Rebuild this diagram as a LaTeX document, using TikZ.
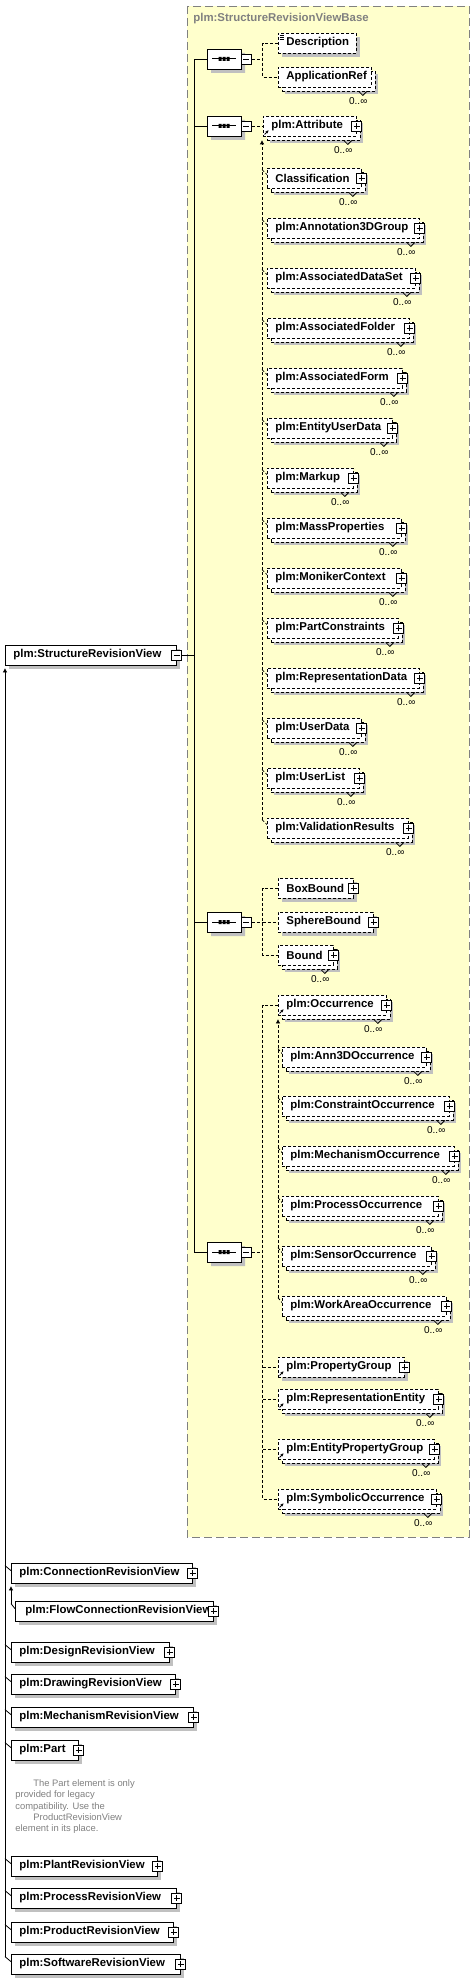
\documentclass[tikz,border=0pt]{standalone}
\usepackage{fontspec}
\setmainfont{Liberation Sans}
\usetikzlibrary{positioning, shapes.misc, shadows, arrows.meta}

\definecolor{baseyellow}{HTML}{FFFFCC}
\definecolor{shadowgray}{HTML}{C0C0C0}
\definecolor{framegray}{HTML}{808080}

\begin{document}
\begin{tikzpicture}[x=1pt, y=-1pt, line width=0.8pt,
  elem/.style={draw, fill=white, anchor=west, minimum height=20pt, inner xsep=8pt, inner ysep=0pt,
    text width=#1, align=left, font=\bfseries\fontsize{11.4pt}{13pt}\selectfont},
  opt/.style={dash pattern=on 3pt off 2pt},
  single/.style={elem=#1, drop shadow={shadow xshift=4pt, shadow yshift=-4pt, fill=shadowgray, opacity=1}},
  multi/.style={elem=#1, opt,
    drop shadow={shadow xshift=7pt, shadow yshift=-7pt, fill=shadowgray, opacity=1},
    copy shadow={shadow xshift=4pt, shadow yshift=-4pt, draw=black, fill=white, dash pattern=on 3pt off 2pt}},
  seqbox/.style={chamfered rectangle, chamfered rectangle xsep=6pt, chamfered rectangle ysep=5pt,
    draw, fill=white, minimum width=34pt, minimum height=20pt, inner sep=0pt,
    drop shadow={shadow xshift=4pt, shadow yshift=-4pt, fill=shadowgray, opacity=1},
    path picture={
      \draw[black, line width=1pt] ([xshift=5pt]path picture bounding box.west) -- ([xshift=-5pt]path picture bounding box.east);
      \fill[black] (path picture bounding box.center) ++(-5.5,-2) rectangle ++(3,4) ++(1,-4) rectangle ++(3,4) ++(1,-4) rectangle ++(3,4);}},
  plusbox/.style={draw, solid, fill=white, minimum size=10pt, inner sep=0pt, line width=0.7pt,
    path picture={\draw ([yshift=-2pt]path picture bounding box.north) -- ([yshift=2pt]path picture bounding box.south)
      ([xshift=2pt]path picture bounding box.west) -- ([xshift=-2pt]path picture bounding box.east);}},
  minusbox/.style={draw, solid, fill=white, minimum size=10pt, inner sep=0pt, line width=0.7pt,
    path picture={\draw ([xshift=2pt]path picture bounding box.west) -- ([xshift=-2pt]path picture bounding box.east);}},
  conn/.style={dash pattern=on 3pt off 2pt},
  subst/.style={dash pattern=on 3pt off 2pt},
  subtip/.style={-{Triangle[length=4pt, width=4pt]}},
  refmark/.style={-{Stealth[length=3pt, width=3pt]}, line width=0.9pt},
  card/.style={anchor=east, inner sep=0pt, font=\fontsize{10pt}{12pt}\selectfont},
  doc/.style={anchor=north west, inner sep=0pt, align=left, text=framegray, font=\fontsize{9.4pt}{11.2pt}\selectfont}
]
\useasboundingbox (0,0) rectangle (475,1980);

% Base type
\draw[framegray, dash pattern=on 8pt off 4pt, fill=baseyellow] (187,6) rectangle (469,1537);
\node[anchor=west, inner sep=0pt, text=framegray, font=\bfseries\fontsize{11.4pt}{13pt}\selectfont] (basettl) at (193,19) {plm:StructureRevisionViewBase};

% Nodes
\node[single=155pt] (srv) at (5,655) {plm:StructureRevisionView};

\node[seqbox] (sA) at (224,59) {};
\node[seqbox] (sB) at (224,126) {};
\node[seqbox] (sC) at (224,922) {};
\node[seqbox] (sD) at (224,1252) {};

\node[single=62pt, opt] (desc) at (278,43) {Description};
\node[multi=77pt] (appref) at (278,77) {ApplicationRef};

\node[multi=77pt] (att) at (263,126) {plm:Attribute};
\node[multi=78pt] (cls) at (267,178) {Classification};
\node[multi=136pt] (ann) at (267,228) {plm:Annotation3DGroup};
\node[multi=132pt] (ads) at (267,278) {plm:AssociatedDataSet};
\node[multi=126pt] (afo) at (267,328) {plm:AssociatedFolder};
\node[multi=119pt] (afm) at (267,378) {plm:AssociatedForm};
\node[multi=109pt] (eud) at (267,428) {plm:EntityUserData};
\node[multi=70pt] (mku) at (267,478) {plm:Markup};
\node[multi=118pt] (mpr) at (267,528) {plm:MassProperties};
\node[multi=118pt] (mon) at (267,578) {plm:MonikerContext};
\node[multi=115pt] (pcn) at (267,628) {plm:PartConstraints};
\node[multi=136pt] (rpd) at (267,678) {plm:RepresentationData};
\node[multi=78pt] (usd) at (267,728) {plm:UserData};
\node[multi=76pt] (usl) at (267,778) {plm:UserList};
\node[multi=125pt] (val) at (267,828) {plm:ValidationResults};

\node[single=59pt, opt] (bbx) at (278,888) {BoxBound};
\node[single=79pt, opt] (sph) at (278,922) {SphereBound};
\node[multi=39pt] (bnd) at (278,955) {Bound};

\node[multi=92pt] (occ) at (278,1005) {plm:Occurrence};
\node[multi=128pt] (a3o) at (282,1057) {plm:Ann3DOccurrence};
\node[multi=151pt] (cno) at (282,1106) {plm:ConstraintOccurrence};
\node[multi=156pt] (meo) at (282,1156) {plm:MechanismOccurrence};
\node[multi=140pt] (pro) at (282,1206) {plm:ProcessOccurrence};
\node[multi=133pt] (seo) at (282,1256) {plm:SensorOccurrence};
\node[multi=148pt] (wao) at (282,1306) {plm:WorkAreaOccurrence};
\node[single=110pt, opt] (prg) at (278,1367) {plm:PropertyGroup};
\node[multi=144pt] (ren) at (278,1399) {plm:RepresentationEntity};
\node[multi=140pt] (epg) at (278,1449) {plm:EntityPropertyGroup};
\node[multi=142pt] (syo) at (278,1499) {plm:SymbolicOccurrence};

\node[single=165pt] (crv) at (11,1573) {plm:ConnectionRevisionView};
\node[single=182pt] (fcr) at (15,1611) {\hspace*{2pt}plm:FlowConnectionRevisionView};
\node[single=142pt] (dsr) at (11,1652) {plm:DesignRevisionView};
\node[single=148pt] (dwr) at (11,1684) {plm:DrawingRevisionView};
\node[single=166pt] (mcr) at (11,1717) {plm:MechanismRevisionView};
\node[single=51pt] (prt) at (11,1750) {plm:Part};
\node[single=130pt] (plr) at (11,1866) {plm:PlantRevisionView};
\node[single=149pt] (psr) at (11,1898) {plm:ProcessRevisionView};
\node[single=146pt] (pdr) at (11,1932) {plm:ProductRevisionView};
\node[single=153pt] (swr) at (11,1964) {plm:SoftwareRevisionView};

% Expand boxes
\node[minusbox] (srvM) at (srv.east) {};
\node[minusbox] (sAM) at ([xshift=5pt]sA.east) {};
\node[minusbox] (sBM) at ([xshift=5pt]sB.east) {};
\node[minusbox] (sCM) at ([xshift=5pt]sC.east) {};
\node[minusbox] (sDM) at ([xshift=5pt]sD.east) {};

\node[plusbox] (attP) at (att.east) {};
\node[plusbox] (clsP) at (cls.east) {};
\node[plusbox] (annP) at (ann.east) {};
\node[plusbox] (adsP) at (ads.east) {};
\node[plusbox] (afoP) at (afo.east) {};
\node[plusbox] (afmP) at (afm.east) {};
\node[plusbox] (eudP) at (eud.east) {};
\node[plusbox] (mkuP) at (mku.east) {};
\node[plusbox] (mprP) at (mpr.east) {};
\node[plusbox] (monP) at (mon.east) {};
\node[plusbox] (pcnP) at (pcn.east) {};
\node[plusbox] (rpdP) at (rpd.east) {};
\node[plusbox] (usdP) at (usd.east) {};
\node[plusbox] (uslP) at (usl.east) {};
\node[plusbox] (valP) at (val.east) {};
\node[plusbox] (bbxP) at (bbx.east) {};
\node[plusbox] (sphP) at (sph.east) {};
\node[plusbox] (bndP) at (bnd.east) {};
\node[plusbox] (occP) at (occ.east) {};
\node[plusbox] (a3oP) at (a3o.east) {};
\node[plusbox] (cnoP) at (cno.east) {};
\node[plusbox] (meoP) at (meo.east) {};
\node[plusbox] (proP) at (pro.east) {};
\node[plusbox] (seoP) at (seo.east) {};
\node[plusbox] (waoP) at (wao.east) {};
\node[plusbox] (prgP) at (prg.east) {};
\node[plusbox] (renP) at (ren.east) {};
\node[plusbox] (epgP) at (epg.east) {};
\node[plusbox] (syoP) at (syo.east) {};
\node[plusbox] (crvP) at (crv.east) {};
\node[plusbox] (fcrP) at (fcr.east) {};
\node[plusbox] (dsrP) at (dsr.east) {};
\node[plusbox] (dwrP) at (dwr.east) {};
\node[plusbox] (mcrP) at (mcr.east) {};
\node[plusbox] (prtP) at (prt.east) {};
\node[plusbox] (plrP) at (plr.east) {};
\node[plusbox] (psrP) at (psr.east) {};
\node[plusbox] (pdrP) at (pdr.east) {};
\node[plusbox] (swrP) at (swr.east) {};

% Edges
\draw (srvM.east) -- ++(12,0) coordinate (trunk);
\draw (sA.west) -- (sA.west -| trunk) -- (sD.west -| trunk) -- (sD.west);
\draw (sB.west -| trunk) -- (sB.west);
\draw (sC.west -| trunk) -- (sC.west);

\draw[conn] (sAM.east) -- ++(11,0) coordinate (jA);
\draw[conn] (desc.west) -| (jA) |- (appref.west);
\draw[conn] (sBM.east) -- (att.west);
\draw[conn] (sCM.east) -- ++(11,0) coordinate (jC);
\draw[conn] (bbx.west) -| (jC) |- (bnd.west);
\draw[conn] (sph.west -| jC) -- (sph.west);
\draw[conn] (sDM.east) -- ++(11,0) coordinate (jD);
\draw[conn] (occ.west) -| (jD) |- (syo.west);
\draw[conn] (prg.west -| jD) -- (prg.west);
\draw[conn] (ren.west -| jD) -- (ren.west);
\draw[conn] (epg.west -| jD) -- (epg.west);

% Substitution groups
\draw[subst, subtip] ([xshift=-5pt, yshift=-2pt]val.north west) -- ([xshift=-1pt, yshift=-4pt]att.south west);
\draw[subst] ([xshift=-5pt, yshift=-2pt]cls.north west) -- ([yshift=-7pt]cls.north west);
\draw[subst] ([xshift=-5pt, yshift=-2pt]ann.north west) -- ([yshift=-7pt]ann.north west);
\draw[subst] ([xshift=-5pt, yshift=-2pt]ads.north west) -- ([yshift=-7pt]ads.north west);
\draw[subst] ([xshift=-5pt, yshift=-2pt]afo.north west) -- ([yshift=-7pt]afo.north west);
\draw[subst] ([xshift=-5pt, yshift=-2pt]afm.north west) -- ([yshift=-7pt]afm.north west);
\draw[subst] ([xshift=-5pt, yshift=-2pt]eud.north west) -- ([yshift=-7pt]eud.north west);
\draw[subst] ([xshift=-5pt, yshift=-2pt]mku.north west) -- ([yshift=-7pt]mku.north west);
\draw[subst] ([xshift=-5pt, yshift=-2pt]mpr.north west) -- ([yshift=-7pt]mpr.north west);
\draw[subst] ([xshift=-5pt, yshift=-2pt]mon.north west) -- ([yshift=-7pt]mon.north west);
\draw[subst] ([xshift=-5pt, yshift=-2pt]pcn.north west) -- ([yshift=-7pt]pcn.north west);
\draw[subst] ([xshift=-5pt, yshift=-2pt]rpd.north west) -- ([yshift=-7pt]rpd.north west);
\draw[subst] ([xshift=-5pt, yshift=-2pt]usd.north west) -- ([yshift=-7pt]usd.north west);
\draw[subst] ([xshift=-5pt, yshift=-2pt]usl.north west) -- ([yshift=-7pt]usl.north west);
\draw[subst] ([xshift=-5pt, yshift=-2pt]val.north west) -- ([yshift=-7pt]val.north west);

\draw[subst, subtip] ([xshift=-4pt, yshift=-2pt]wao.north west) -- ([yshift=-4pt]occ.south west);
\draw[subst] ([xshift=-4pt, yshift=-2pt]a3o.north west) -- ([yshift=-7pt]a3o.north west);
\draw[subst] ([xshift=-4pt, yshift=-2pt]cno.north west) -- ([yshift=-7pt]cno.north west);
\draw[subst] ([xshift=-4pt, yshift=-2pt]meo.north west) -- ([yshift=-7pt]meo.north west);
\draw[subst] ([xshift=-4pt, yshift=-2pt]pro.north west) -- ([yshift=-7pt]pro.north west);
\draw[subst] ([xshift=-4pt, yshift=-2pt]seo.north west) -- ([yshift=-7pt]seo.north west);
\draw[subst] ([xshift=-4pt, yshift=-2pt]wao.north west) -- ([yshift=-7pt]wao.north west);

\draw[subtip] ([xshift=-6pt, yshift=-3pt]swr.north west) -- ([yshift=-3pt]srv.south west);
\draw ([xshift=-6pt, yshift=-3pt]crv.north west) -- ([yshift=-8pt]crv.north west);
\draw ([xshift=-6pt, yshift=-3pt]dsr.north west) -- ([yshift=-8pt]dsr.north west);
\draw ([xshift=-6pt, yshift=-3pt]dwr.north west) -- ([yshift=-8pt]dwr.north west);
\draw ([xshift=-6pt, yshift=-3pt]mcr.north west) -- ([yshift=-8pt]mcr.north west);
\draw ([xshift=-6pt, yshift=-3pt]prt.north west) -- ([yshift=-8pt]prt.north west);
\draw ([xshift=-6pt, yshift=-3pt]plr.north west) -- ([yshift=-8pt]plr.north west);
\draw ([xshift=-6pt, yshift=-3pt]psr.north west) -- ([yshift=-8pt]psr.north west);
\draw ([xshift=-6pt, yshift=-3pt]pdr.north west) -- ([yshift=-8pt]pdr.north west);
\draw ([xshift=-6pt, yshift=-3pt]swr.north west) -- ([yshift=-8pt]swr.north west);
\draw[subtip] ([xshift=-4pt, yshift=-3pt]fcr.north west) -- ([yshift=-3pt]crv.south west);
\draw ([xshift=-4pt, yshift=-3pt]fcr.north west) -- ([yshift=-8pt]fcr.north west);

% Markers
\draw[line width=0.6pt] (desc.north west) ++(1.5,2.5) -- ++(4,0) ++(-4,2) -- ++(4,0) ++(-4,2) -- ++(4,0);
\draw[refmark] ([xshift=1.5pt, yshift=2pt]att.south west) -- ++(4,-4);
\draw[refmark] ([xshift=1.5pt, yshift=2pt]occ.south west) -- ++(4,-4);
\draw[refmark] ([xshift=1.5pt, yshift=2pt]prg.south west) -- ++(4,-4);
\draw[refmark] ([xshift=1.5pt, yshift=2pt]ren.south west) -- ++(4,-4);
\draw[refmark] ([xshift=1.5pt, yshift=2pt]epg.south west) -- ++(4,-4);
\draw[refmark] ([xshift=1.5pt, yshift=2pt]syo.south west) -- ++(4,-4);

% Labels
\draw (appref.south east) ++(-13,4) -- ++(4,4) -- ++(4,-4) ++(1,9.5) node[card] (apprefN) {0..∞};
\draw (att.south east) ++(-13,4) -- ++(4,4) -- ++(4,-4) ++(1,9.5) node[card] (attN) {0..∞};
\draw (cls.south east) ++(-13,4) -- ++(4,4) -- ++(4,-4) ++(1,9.5) node[card] (clsN) {0..∞};
\draw (ann.south east) ++(-13,4) -- ++(4,4) -- ++(4,-4) ++(1,9.5) node[card] (annN) {0..∞};
\draw (ads.south east) ++(-13,4) -- ++(4,4) -- ++(4,-4) ++(1,9.5) node[card] (adsN) {0..∞};
\draw (afo.south east) ++(-13,4) -- ++(4,4) -- ++(4,-4) ++(1,9.5) node[card] (afoN) {0..∞};
\draw (afm.south east) ++(-13,4) -- ++(4,4) -- ++(4,-4) ++(1,9.5) node[card] (afmN) {0..∞};
\draw (eud.south east) ++(-13,4) -- ++(4,4) -- ++(4,-4) ++(1,9.5) node[card] (eudN) {0..∞};
\draw (mku.south east) ++(-13,4) -- ++(4,4) -- ++(4,-4) ++(1,9.5) node[card] (mkuN) {0..∞};
\draw (mpr.south east) ++(-13,4) -- ++(4,4) -- ++(4,-4) ++(1,9.5) node[card] (mprN) {0..∞};
\draw (mon.south east) ++(-13,4) -- ++(4,4) -- ++(4,-4) ++(1,9.5) node[card] (monN) {0..∞};
\draw (pcn.south east) ++(-13,4) -- ++(4,4) -- ++(4,-4) ++(1,9.5) node[card] (pcnN) {0..∞};
\draw (rpd.south east) ++(-13,4) -- ++(4,4) -- ++(4,-4) ++(1,9.5) node[card] (rpdN) {0..∞};
\draw (usd.south east) ++(-13,4) -- ++(4,4) -- ++(4,-4) ++(1,9.5) node[card] (usdN) {0..∞};
\draw (usl.south east) ++(-13,4) -- ++(4,4) -- ++(4,-4) ++(1,9.5) node[card] (uslN) {0..∞};
\draw (val.south east) ++(-13,4) -- ++(4,4) -- ++(4,-4) ++(1,9.5) node[card] (valN) {0..∞};
\draw (bnd.south east) ++(-13,4) -- ++(4,4) -- ++(4,-4) ++(1,9.5) node[card] (bndN) {0..∞};
\draw (occ.south east) ++(-13,4) -- ++(4,4) -- ++(4,-4) ++(1,9.5) node[card] (occN) {0..∞};
\draw (a3o.south east) ++(-13,4) -- ++(4,4) -- ++(4,-4) ++(1,9.5) node[card] (a3oN) {0..∞};
\draw (cno.south east) ++(-13,4) -- ++(4,4) -- ++(4,-4) ++(1,9.5) node[card] (cnoN) {0..∞};
\draw (meo.south east) ++(-13,4) -- ++(4,4) -- ++(4,-4) ++(1,9.5) node[card] (meoN) {0..∞};
\draw (pro.south east) ++(-13,4) -- ++(4,4) -- ++(4,-4) ++(1,9.5) node[card] (proN) {0..∞};
\draw (seo.south east) ++(-13,4) -- ++(4,4) -- ++(4,-4) ++(1,9.5) node[card] (seoN) {0..∞};
\draw (wao.south east) ++(-13,4) -- ++(4,4) -- ++(4,-4) ++(1,9.5) node[card] (waoN) {0..∞};
\draw (ren.south east) ++(-13,4) -- ++(4,4) -- ++(4,-4) ++(1,9.5) node[card] (renN) {0..∞};
\draw (epg.south east) ++(-13,4) -- ++(4,4) -- ++(4,-4) ++(1,9.5) node[card] (epgN) {0..∞};
\draw (syo.south east) ++(-13,4) -- ++(4,4) -- ++(4,-4) ++(1,9.5) node[card] (syoN) {0..∞};

\node[doc] (partdoc) at (15,1779.5) {\hspace*{18pt}The Part element is only\\provided for legacy\\compatibility. Use the\\\hspace*{18pt}ProductRevisionView\\element in its place.};

\end{tikzpicture}
\end{document}
